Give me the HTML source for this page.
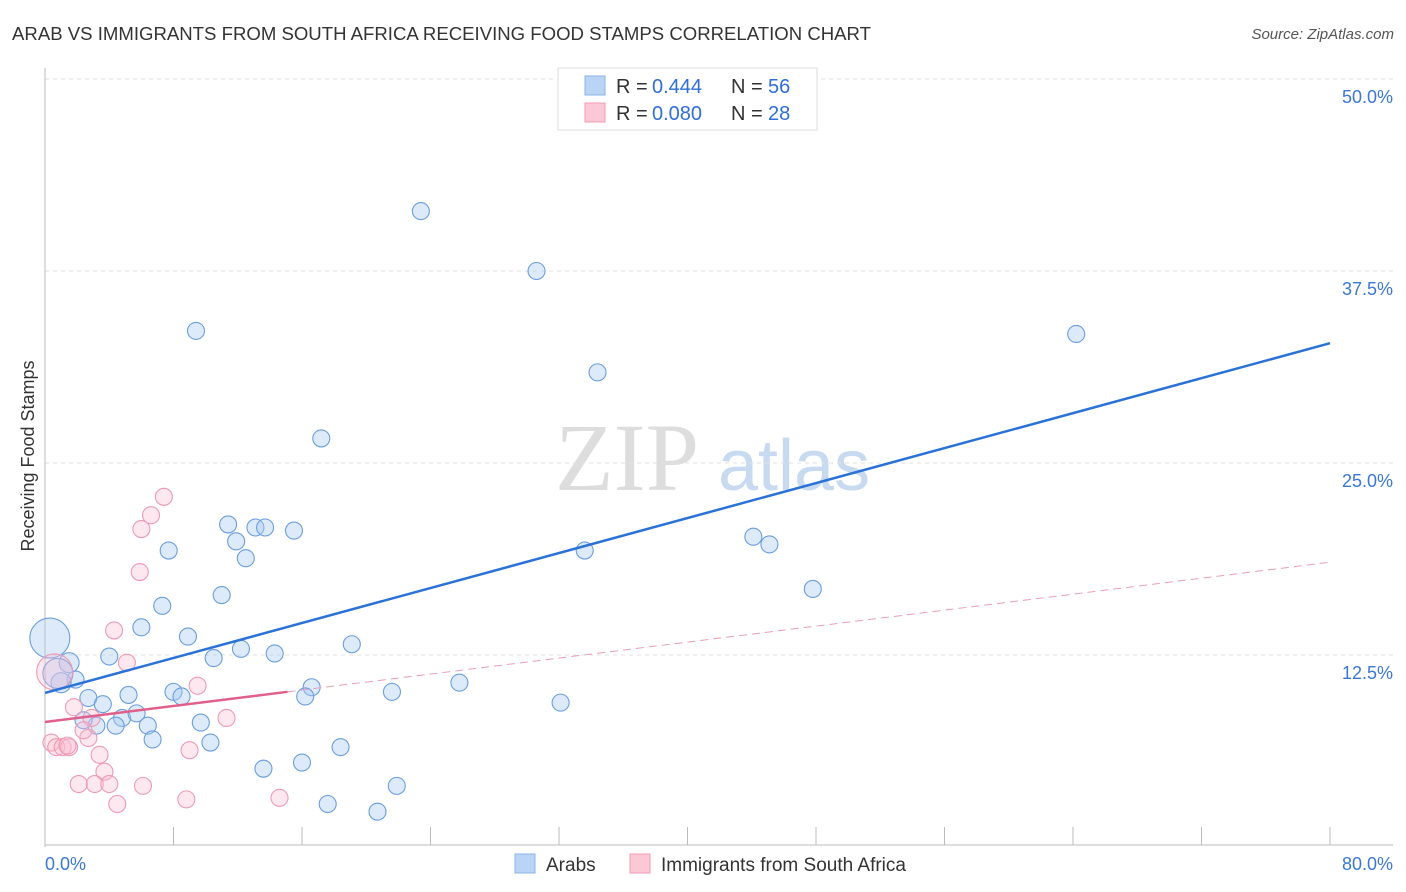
<!DOCTYPE html>
<html><head><meta charset="utf-8">
<style>
body{margin:0;background:#fff;font-family:"Liberation Sans",sans-serif;}
#wrap{position:relative;width:1406px;height:892px;overflow:hidden;}
</style></head>
<body>
<div id="wrap">
<svg id="svg" width="1406" height="892" xmlns="http://www.w3.org/2000/svg">
<text x="12" y="40" font-size="18" fill="#333" textLength="859" lengthAdjust="spacingAndGlyphs">ARAB VS IMMIGRANTS FROM SOUTH AFRICA RECEIVING FOOD STAMPS CORRELATION CHART</text>
<text x="1394" y="39" font-size="15" fill="#555" font-style="italic" text-anchor="end">Source: ZipAtlas.com</text>
<text x="0" y="0" transform="translate(34,456) rotate(-90)" font-size="18" fill="#333" text-anchor="middle">Receiving Food Stamps</text>
<text x="555" y="490" font-size="96" fill="#ddd" font-family="Liberation Serif,serif">ZIP</text>
<text x="718" y="490" font-size="72" fill="#c8daf0">atlas</text>
<g id="grid"></g><g id="lines"></g><g id="pts"></g>
<g>
<rect x="558" y="68" width="259" height="62" fill="#fff" stroke="#ddd"/>
<rect x="585" y="76" width="20" height="19" fill="#b9d4f5" stroke="#8ab3e6"/>
<rect x="585" y="103" width="20" height="19" fill="#fbc8d6" stroke="#f09ab3"/>
<text x="616" y="93" font-size="20" fill="#333">R =</text>
<text x="652" y="93" font-size="20" fill="#2f6fd6">0.444</text>
<text x="731" y="93" font-size="20" fill="#333">N =</text>
<text x="768" y="93" font-size="20" fill="#2f6fd6">56</text>
<text x="616" y="120" font-size="20" fill="#333">R =</text>
<text x="652" y="120" font-size="20" fill="#2f6fd6">0.080</text>
<text x="731" y="120" font-size="20" fill="#333">N =</text>
<text x="768" y="120" font-size="20" fill="#2f6fd6">28</text>
</g>
<g>
<rect x="515" y="854" width="20" height="19" fill="#b9d4f5" stroke="#8ab3e6"/>
<text x="546" y="871" font-size="19" fill="#333">Arabs</text>
<rect x="630" y="854" width="20" height="19" fill="#fbc8d6" stroke="#f09ab3"/>
<text x="661" y="871" font-size="19" fill="#333">Immigrants from South Africa</text>
</g>
</svg>
</div>
<script>
const yTicks=[12.5,25,37.5,50];
const yTickLabels=["12.5%","25.0%","37.5%","50.0%"];
const xTickLabels=["0.0%","80.0%"];
const arabX=[23.4,30.6,9.4,64.2,34.4,17.2,11.4,13.1,13.7,15.5,11.9,7.7,12.5,44.1,45.1,33.6,47.8,11.0,7.3,6.0,8.9,19.1,12.2,14.3,10.5,4.0,1.5,1.9,1.0,0.3,0.8,2.7,5.2,8.0,8.5,16.6,16.2,21.6,25.8,3.6,4.8,5.7,4.4,3.2,6.4,9.7,10.3,6.7,32.1,18.4,13.6,16.0,21.9,17.6,20.7,2.4];
const arabY=[41.4,37.5,33.6,33.4,30.9,26.6,21.0,20.8,20.8,20.6,19.9,19.3,18.8,20.2,19.7,19.3,16.8,16.4,15.7,14.3,13.7,13.2,12.9,12.6,12.3,12.4,12.0,10.9,10.7,13.6,11.3,9.7,9.9,10.1,9.8,10.4,9.8,10.1,10.7,9.3,8.4,8.7,7.9,7.9,7.9,8.1,6.8,7.0,9.4,6.5,5.1,5.5,3.98,2.8,2.3,8.25];
const arabR=[8.5,8.5,8.5,8.5,8.5,8.5,8.5,8.5,8.5,8.5,8.5,8.5,8.5,8.5,8.5,8.5,8.5,8.5,8.5,8.5,8.5,8.5,8.5,8.5,8.5,8.5,10,8.5,10,20,15,8.5,8.5,8.5,8.5,8.5,8.5,8.5,8.5,8.5,8.5,8.5,8.5,8.5,8.5,8.5,8.5,8.5,8.5,8.5,8.5,8.5,8.5,8.5,8.5,8.5];
const immX=[7.4,6.6,6.0,5.9,4.3,5.1,9.5,11.3,1.8,2.9,2.7,2.4,0.4,0.7,1.1,1.5,3.4,3.7,3.1,2.1,4.0,9.0,6.1,4.5,8.8,14.6,0.6,1.4];
const immY=[22.8,21.6,20.7,17.9,14.1,12.0,10.5,8.4,9.1,8.4,7.1,7.6,6.8,6.5,6.5,6.5,6.0,4.9,4.1,4.1,4.1,6.3,3.98,2.8,3.1,3.2,11.4,6.6];
const immR=[8.5,8.5,8.5,8.5,8.5,8.5,8.5,8.5,8.5,8.5,8.5,8.5,8.5,8.5,8.5,8.5,8.5,8.5,8.5,8.5,8.5,8.5,8.5,8.5,8.5,8.5,18,8.5];
const arabTrend=[10.03,32.8];
const immTrend=[8.14,0.13];
const immSolidEnd=15.1;

const NS="http://www.w3.org/2000/svg";
const X0=45,X1=1330,Y0=847,Y50=79;
const sx=v=>X0+v*(X1-X0)/80;
const sy=v=>Y0-v*(Y0-Y50)/50;
function mk(tag,attrs,parent){const e=document.createElementNS(NS,tag);for(const k in attrs)e.setAttribute(k,attrs[k]);parent.appendChild(e);return e;}
const svg=document.getElementById('svg');
const grid=document.getElementById('grid');
yTicks.forEach((t,i)=>{
  const l=mk('line',{x1:X0,x2:1393,y1:sy(t),y2:sy(t),stroke:'#e2e2e2','stroke-dasharray':'4,4'},grid);
  
  
  const tx=mk('text',{x:1393,y:sy(t)+24,'font-size':18,fill:'#3a78d4','text-anchor':'end'},grid);
  tx.textContent=yTickLabels[i];
  
  
});
const ax=mk('line',{x1:X0,x2:X0,y1:68,y2:Y0,stroke:'#bbb'},grid);


const bx=mk('line',{x1:X0,x2:1393,y1:Y0-2,y2:Y0-2,stroke:'#bbb'},grid);


for(let i=1;i<=10;i++){
  const t=mk('line',{x1:sx(i*8),x2:sx(i*8),y1:827,y2:845,stroke:'#bbb'},grid);
  
  
}
[[0,'start',45],[80,'end',1393]].forEach((d,i)=>{
  const tx=mk('text',{x:d[2],y:870,'font-size':18,fill:'#3a78d4','text-anchor':d[1]},grid);
  tx.textContent=xTickLabels[i];
  
  
});
const pts=document.getElementById('pts');
arabX.forEach((x,i)=>{
  const c=mk('circle',{cx:sx(x),cy:sy(arabY[i]),r:arabR[i],fill:'rgba(170,202,242,0.4)',stroke:'#6a9ede','stroke-width':1.1},pts);
  
  
});
immX.forEach((x,i)=>{
  const c=mk('circle',{cx:sx(x),cy:sy(immY[i]),r:immR[i],fill:'rgba(250,190,208,0.35)',stroke:'#ee9ab4','stroke-width':1.1},pts);
  
  
});
const bl=mk('line',{x1:sx(0),y1:sy(arabTrend[0]),x2:sx(80),y2:sy(arabTrend[1]),stroke:'#2a72d8','stroke-width':2.5},svg);


const f=x=>immTrend[0]+immTrend[1]*x;
const pd=mk('line',{x1:sx(immSolidEnd),y1:sy(f(immSolidEnd)),x2:sx(80),y2:sy(f(80)),stroke:'#e8a0b6','stroke-width':1,'stroke-dasharray':'8,5'},svg);


const ps=mk('line',{x1:sx(0),y1:sy(f(0)),x2:sx(immSolidEnd),y2:sy(f(immSolidEnd)),stroke:'#e0608a','stroke-width':2.5},svg);


</script>
</body></html>
